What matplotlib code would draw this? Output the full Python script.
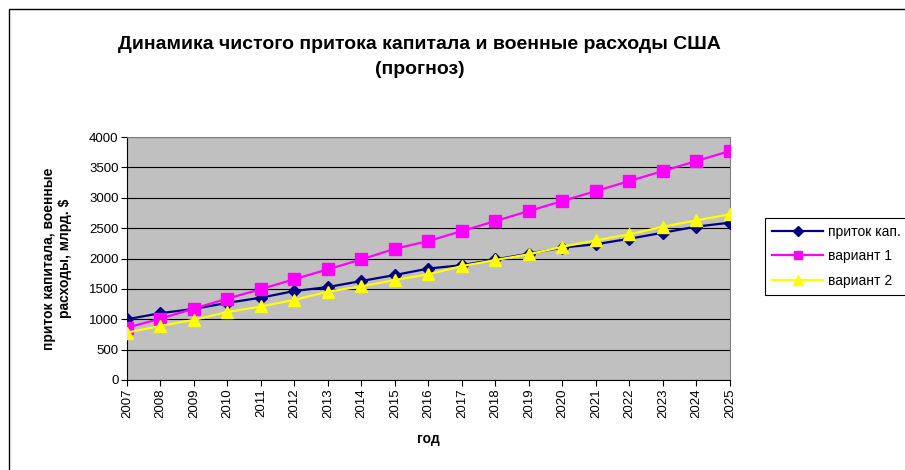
import matplotlib.pyplot as plt
from matplotlib.lines import Line2D

plt.rcParams['font.family'] = ['Liberation Sans', 'DejaVu Sans']

years = list(range(2007, 2026))
inflow = [1000, 1100, 1170, 1270, 1355, 1465, 1530, 1630, 1728, 1835, 1890,
          1985, 2080, 2180, 2235, 2325, 2425, 2525, 2590]
variant1 = [860, 1010, 1175, 1340, 1495, 1660, 1822, 1986, 2160, 2288, 2452,
            2617, 2782, 2946, 3111, 3275, 3440, 3605, 3770]
variant2 = [780, 890, 990, 1120, 1210, 1320, 1455, 1540, 1646, 1740, 1876,
            1975, 2070, 2194, 2299, 2398, 2524, 2628, 2727]

fig = plt.figure(figsize=(9.05, 4.7), dpi=100)
ax = fig.add_axes([0.1403, 0.1915, 0.6663, 0.517])
ax.set_facecolor('#C0C0C0')

ax.plot(years, inflow, color='#000080', marker='D', markersize=6.5, lw=1.6,
        label='приток кап.', zorder=3)
ax.plot(years, variant1, color='#FF00FF', marker='s', markersize=8.5, lw=1.6,
        label='вариант 1', zorder=3)
ax.plot(years, variant2, color='#FFFF00', marker='^', markersize=9, lw=1.6,
        label='вариант 2', zorder=4)

ax.set_xlim(2007, 2025)
ax.set_ylim(0, 4000)
ax.set_xticks(years)
ax.set_xticklabels([str(y) for y in years], rotation=90, fontsize=9.5)
ax.set_yticks(range(0, 4001, 500))
ax.tick_params(axis='y', labelsize=9.5, length=4, pad=2)
ax.tick_params(axis='x', length=4, pad=2)
ax.yaxis.grid(True, color='black', lw=0.8)
ax.set_axisbelow(True)
for s in ax.spines.values():
    s.set_color('#808080')
ax.spines['left'].set_color('black')
ax.spines['bottom'].set_color('black')

ax.set_xlabel('год', fontsize=10, fontweight='bold', labelpad=10)
ax.set_ylabel('приток капитала, военные\nрасходы, млрд. $', fontsize=10,
              fontweight='bold', labelpad=12)

fig.text(0.464, 0.879, 'Динамика чистого притока капитала и военные расходы США\n(прогноз)',
         ha='center', va='center', fontsize=14, fontweight='bold', linespacing=1.65)

leg = fig.legend(loc='upper left', bbox_to_anchor=(765 / 905, 1 - 218 / 470), fontsize=10,
                 frameon=True, fancybox=False, edgecolor='black', framealpha=1,
                 handlelength=3.7, borderpad=0.5, labelspacing=0.75, handletextpad=0.3,
                 borderaxespad=0, markerscale=0.75)
leg.get_frame().set_linewidth(0.8)

# outer chart frame (only left and top edges fall inside the picture)
fig.add_artist(Line2D([9 / 905, 9 / 905, 1], [0, 1 - 9 / 470, 1 - 9 / 470],
                      transform=fig.transFigure, color='black', lw=1))

fig.savefig('out.png', dpi=100)
